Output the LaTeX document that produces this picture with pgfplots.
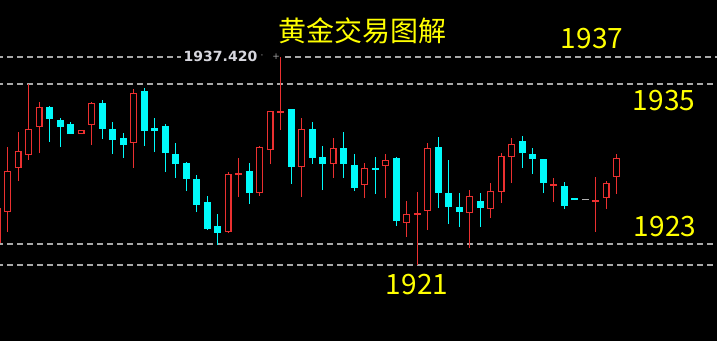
\documentclass[border=0pt]{standalone}
\usepackage{pgfplots}
\usepackage{pgfplotstable}
\pgfplotsset{compat=1.18}
\usepackage{fontspec}
\newfontfamily\cjk{Noto Sans CJK SC}
\newfontfamily\lab{DejaVu Sans}
\definecolor{bull}{RGB}{235,48,48}
\definecolor{bear}{RGB}{0,250,250}
\definecolor{gridc}{RGB}{168,168,168}
\definecolor{ylw}{RGB}{255,255,0}
\definecolor{labc}{RGB}{215,215,222}

% red (rising, hollow) candles: x low high body-bottom body-top inner-bottom inner-top
\pgfplotstableread{
x low high bot top ibot itop
0 1922.58 1925.74 1922.74 1925.50 1922.84 1925.40
1 1923.61 1930.32 1925.18 1928.42 1925.28 1928.32
2 1927.63 1931.50 1928.66 1930.00 1928.76 1929.90
3 1929.29 1935.29 1929.68 1931.74 1929.78 1931.64
4 1929.84 1933.87 1931.89 1933.47 1931.99 1933.37
8 1931.34 1931.66 1931.34 1931.66 1931.44 1931.56
9 1930.47 1933.87 1932.05 1933.79 1932.15 1933.69
13 1928.66 1934.89 1930.63 1934.58 1930.73 1934.48
22 1923.53 1928.34 1923.61 1928.18 1923.71 1928.08
23 1926.37 1929.45 1928.10 1928.26 1928.18 1928.18
25 1926.45 1930.39 1926.68 1930.32 1926.78 1930.22
26 1928.97 1933.16 1930.08 1933.16 1930.18 1933.06
27 1931.66 1937.42 1933.00 1933.16 1933.08 1933.08
29 1926.37 1932.60 1928.74 1931.74 1928.84 1931.64
32 1927.87 1931.03 1928.97 1930.24 1929.07 1930.14
35 1926.29 1929.05 1927.32 1928.66 1927.42 1928.56
37 1926.29 1929.76 1928.82 1929.29 1928.92 1929.19
39 1923.21 1926.05 1924.32 1925.03 1924.42 1924.93
40 1921.00 1926.76 1924.95 1925.11 1925.03 1925.03
41 1923.76 1930.63 1925.26 1930.24 1925.36 1930.14
45 1922.34 1926.92 1925.11 1926.45 1925.21 1926.35
47 1924.71 1927.47 1925.42 1926.84 1925.52 1926.74
48 1925.90 1929.84 1926.76 1929.61 1926.86 1929.51
49 1927.47 1931.03 1929.53 1930.55 1929.63 1930.45
53 1925.97 1927.87 1927.24 1927.40 1927.32 1927.32
57 1923.61 1927.95 1925.97 1926.13 1926.05 1926.05
58 1925.42 1927.63 1926.29 1927.47 1926.39 1927.37
59 1926.61 1929.76 1927.95 1929.45 1928.05 1929.35
}\redtab

% cyan (falling, filled) candles: x low high body-bottom body-top
\pgfplotstableread{
x low high bot top
5 1930.71 1933.55 1932.53 1933.47
6 1930.32 1932.60 1931.89 1932.45
7 1931.34 1932.29 1931.34 1932.13
10 1930.95 1934.03 1931.74 1933.79
11 1929.76 1932.29 1930.87 1931.74
12 1929.45 1931.42 1930.47 1931.03
14 1930.39 1934.97 1931.58 1934.74
15 1929.92 1932.60 1931.58 1931.82
16 1928.34 1932.13 1929.84 1931.97
17 1927.87 1930.63 1928.97 1929.76
18 1926.84 1929.13 1927.79 1929.05
19 1925.18 1928.10 1925.74 1927.79
20 1923.76 1926.45 1923.84 1925.97
21 1922.58 1925.03 1923.53 1924.08
24 1925.82 1929.05 1926.68 1928.42
28 1927.40 1933.32 1928.74 1933.32
30 1928.97 1932.29 1929.45 1931.74
31 1926.92 1930.39 1928.97 1929.53
33 1927.87 1931.50 1928.97 1930.24
34 1926.84 1929.76 1927.08 1928.89
36 1926.61 1929.53 1928.50 1928.66
38 1924.08 1929.53 1924.47 1929.45
42 1925.50 1931.11 1926.68 1930.32
43 1924.24 1929.29 1925.58 1926.68
44 1924.00 1926.68 1925.18 1925.58
46 1924.00 1926.68 1925.50 1926.05
50 1928.66 1931.18 1929.84 1930.79
51 1928.18 1930.24 1929.37 1929.76
52 1926.68 1929.37 1927.47 1929.37
54 1925.42 1927.55 1925.66 1927.24
55 1926.13 1926.29 1926.13 1926.29
}\cyantab

\begin{document}
\begin{tikzpicture}
\begin{axis}[
  scale only axis, width=717pt, height=341pt,
  xmin=0.2667, xmax=68.55, ymin=1915.00, ymax=1941.92,
  axis line style={draw=none}, ticks=none,
  axis background/.style={fill=black},
  clip=true,
]
% dashed levels
\addplot[gridc, line width=1.2pt, dash pattern=on 6pt off 4pt, forget plot] coordinates {(0,1937.42) (17.5,1937.42)};
\addplot[gridc, line width=1.2pt, dash pattern=on 6pt off 4pt, forget plot] coordinates {(27.4,1937.42) (70,1937.42)};
\addplot[gridc, line width=1.2pt, dash pattern=on 6pt off 4pt, forget plot] coordinates {(0,1935.29) (70,1935.29)};
\addplot[gridc, line width=1.2pt, dash pattern=on 6pt off 4pt, forget plot] coordinates {(0,1922.66) (70,1922.66)};
\addplot[gridc, line width=1.2pt, dash pattern=on 6pt off 4pt, forget plot] coordinates {(0,1921.00) (70,1921.00)};

% red wicks
\addplot[draw=none, mark=none, forget plot, error bars/.cd, y dir=plus, y explicit, error mark=none,
  error bar style={draw=bull, line width=1.2pt, solid}]
  table[x=x, y=low, y error expr=\thisrow{high}-\thisrow{low}] {\redtab};
% red bodies (outline) and black inside
\addplot[draw=none, mark=none, forget plot, error bars/.cd, y dir=plus, y explicit, error mark=none,
  error bar style={draw=bull, line width=7pt, solid}]
  table[x=x, y=bot, y error expr=\thisrow{top}-\thisrow{bot}] {\redtab};
\addplot[draw=none, mark=none, forget plot, error bars/.cd, y dir=plus, y explicit, error mark=none,
  error bar style={draw=black, line width=4.5pt, solid}]
  table[x=x, y=ibot, y error expr=\thisrow{itop}-\thisrow{ibot}] {\redtab};

% cyan wicks and bodies
\addplot[draw=none, mark=none, forget plot, error bars/.cd, y dir=plus, y explicit, error mark=none,
  error bar style={draw=bear, line width=1.2pt, solid}]
  table[x=x, y=low, y error expr=\thisrow{high}-\thisrow{low}] {\cyantab};
\addplot[draw=none, mark=none, forget plot, error bars/.cd, y dir=plus, y explicit, error mark=none,
  error bar style={draw=bear, line width=7pt, solid}]
  table[x=x, y=bot, y error expr=\thisrow{top}-\thisrow{bot}] {\cyantab};

% unchanged (gray) candle
\addplot[draw=none, mark=none, forget plot, error bars/.cd, y dir=plus, y explicit, error mark=none,
  error bar style={draw=gridc!90!white, line width=7pt, solid}]
  coordinates {(56,1926.10) +- (0,0.14)};

% texts
\node[text=ylw, font=\cjk\fontsize{28}{30}\selectfont] at (rel axis cs:0.5049,0.9091) {黄金交易图解};
\node[text=ylw, font=\cjk\fontsize{28}{30}\selectfont] at (rel axis cs:0.8257,0.8856) {1937};
\node[text=ylw, font=\cjk\fontsize{28}{30}\selectfont] at (rel axis cs:0.9261,0.7038) {1935};
\node[text=ylw, font=\cjk\fontsize{28}{30}\selectfont] at (rel axis cs:0.9275,0.3343) {1923};
\node[text=ylw, font=\cjk\fontsize{28}{30}\selectfont] at (rel axis cs:0.5816,0.1642) {1921};
\node[text=labc, font=\lab\bfseries\fontsize{14}{16}\selectfont, inner sep=0pt] at (rel axis cs:0.3075,0.8343) {1937.420};
\node[text=gridc, font=\lab\fontsize{9}{10}\selectfont, inner sep=0pt] at (rel axis cs:0.3850,0.8343) {+};
\node[text=gridc, font=\lab\fontsize{9}{10}\selectfont, inner sep=0pt] at (rel axis cs:0.3654,0.8343) {·};
\end{axis}
\end{tikzpicture}
\end{document}
